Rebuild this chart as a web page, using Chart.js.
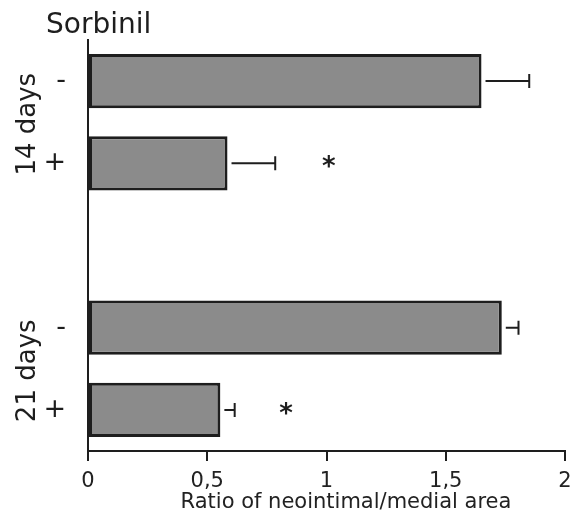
<!DOCTYPE html>
<html>
<head>
<meta charset="utf-8">
<script src="https://cdn.jsdelivr.net/npm/chart.js@4/dist/chart.umd.min.js"></script>
<style>
  html, body { margin: 0; padding: 0; background: #fff; }
</style>
</head>
<body>
<canvas id="chart" width="572" height="514"></canvas>
<script>
// data
const categories = ['14 days -', '14 days +', '', '21 days -', '21 days +'];
const signLabels = ['-', '+', '', '-', '+'];
const groupLabels = ['14 days', '21 days'];
const groupMembers = [[0, 1], [3, 4]];
const ratioMeans = [1.65, 0.585, null, 1.735, 0.555];
const ratioErrors = [0.20, 0.20, null, 0.07, 0.06];
const starValues = [null, 1.01, null, null, 0.83];
const xTickValues = [0, 0.5, 1, 1.5, 2];
const xTickLabels = ['0', '0,5', '1', '1,5', '2'];

const FONT = '"DejaVu Sans", "Liberation Sans", Arial, sans-serif';
const INK = '#1e1e1e';

// error bars, asterisks, group labels, axis title and panel title
const extrasPlugin = {
    id: 'extras',
    afterDatasetsDraw(chart) {
        const ctx = chart.ctx;
        const xScale = chart.scales.x;
        const meta = chart.getDatasetMeta(0);
        ctx.save();
        ctx.strokeStyle = INK;
        ctx.lineWidth = 2;
        meta.data.forEach((bar, i) => {
            if (ratioMeans[i] == null) return;
            const x0 = bar.x + 4;
            const x1 = xScale.getPixelForValue(ratioMeans[i] + ratioErrors[i]);
            ctx.beginPath();
            ctx.moveTo(x0, bar.y);
            ctx.lineTo(x1, bar.y);
            ctx.moveTo(x1, bar.y - 7);
            ctx.lineTo(x1, bar.y + 7);
            ctx.stroke();
        });

        // significance stars
        ctx.fillStyle = INK;
        ctx.font = 'bold 26px ' + FONT;
        ctx.textAlign = 'center';
        ctx.textBaseline = 'middle';
        meta.data.forEach((bar, i) => {
            if (starValues[i] == null) return;
            ctx.fillText('*', xScale.getPixelForValue(starValues[i]), bar.y + 5);
        });

        // rotated group labels
        ctx.font = '26px ' + FONT;
        groupMembers.forEach((members, g) => {
            const yc = (meta.data[members[0]].y + meta.data[members[1]].y) / 2 + 2;
            ctx.save();
            ctx.translate(28, yc);
            ctx.rotate(-Math.PI / 2);
            ctx.fillText(groupLabels[g], 0, 0);
            ctx.restore();
        });

        // x axis title (sits right of centre in the original)
        ctx.font = '21px ' + FONT;
        ctx.fillStyle = '#222';
        ctx.fillText('Ratio of neointimal/medial area', 346, 503);

        // title
        ctx.fillStyle = INK;
        ctx.font = '28px ' + FONT;
        ctx.textAlign = 'left';
        ctx.textBaseline = 'alphabetic';
        ctx.fillText('Sorbinil', 46, 33);
        ctx.restore();
    }
};

new Chart(document.getElementById('chart'), {
    type: 'bar',
    data: {
        labels: categories,
        datasets: [{
            data: ratioMeans,
            backgroundColor: '#8b8b8b',
            borderColor: INK,
            borderWidth: 3,
            borderSkipped: false,
            categoryPercentage: 1,
            barPercentage: 0.66
        }]
    },
    options: {
        indexAxis: 'y',
        responsive: false,
        animation: false,
        layout: { padding: { top: 40, right: 0, left: 0, bottom: 0 } },
        plugins: {
            legend: { display: false },
            tooltip: { enabled: false }
        },
        scales: {
            x: {
                min: 0,
                max: 2,
                afterBuildTicks(scale) {
                    scale.ticks = xTickValues.map(v => ({ value: v }));
                },
                afterFit(scale) {
                    scale.height = 63;
                    scale.paddingRight = 7;
                },
                grid: {
                    drawOnChartArea: false,
                    drawTicks: true,
                    tickLength: 10,
                    color: INK,
                    lineWidth: 2
                },
                border: { display: true, color: INK, width: 2 },
                ticks: {
                    padding: 8,
                    color: '#222',
                    font: { family: FONT, size: 21 },
                    callback: (v, i) => xTickLabels[i]
                },
                title: { display: false }
            },
            y: {
                afterFit(scale) { scale.width = 88; },
                grid: { display: false, drawTicks: false },
                border: { display: true, color: INK, width: 2 },
                ticks: {
                    padding: 22,
                    color: INK,
                    font: { family: FONT, size: 27 },
                    callback: (v, i) => signLabels[i]
                }
            }
        }
    },
    plugins: [extrasPlugin]
});
</script>
</body>
</html>
